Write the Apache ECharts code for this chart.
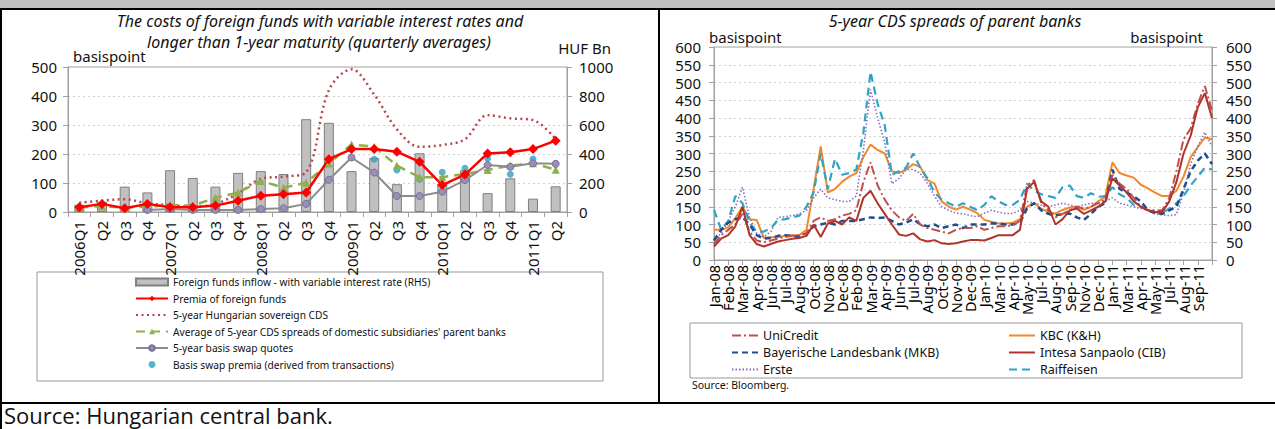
<!DOCTYPE html>
<html><head><meta charset="utf-8">
<script src="https://cdn.jsdelivr.net/npm/echarts/dist/echarts.min.js"></script>
<style>html,body{margin:0;padding:0;background:#fff}#c{width:1275px;height:429px}</style>
</head><body><div id="c"></div>
<script>
// ---------- Left chart data (quarterly) ----------
const quarters = ['2006Q1','Q2','Q3','Q4','2007Q1','Q2','Q3','Q4','2008Q1','Q2','Q3','Q4','2009Q1','Q2','Q3','Q4','2010Q1','Q2','Q3','Q4','2011Q1','Q2'];
const fundsInflow = [50,70,175,135,288,235,175,270,282,262,640,615,282,372,192,405,195,288,130,232,92,177];
const premiaForeign = [16,28,13,28,16,16,22,39,56,61,67,182,217,217,208,173,93,129,202,206,217,246];
const sovereignCDS = [32,39,44,30,24,18,28,64,114,122,137,420,492,405,285,225,231,251,334,323,317,251];
const parentCDSavg = [16,20,15,18,24,22,49,67,107,84,101,167,233,225,160,120,120,131,145,160,168,146];
const basisSwapQuotes = [null,null,null,7,10,7,7,7,10,13,28,111,188,136,55,55,70,110,162,156,168,166];
const basisSwapPremia = [null,null,null,null,null,null,null,null,null,null,null,null,216,182,145,113,137,151,185,130,183,166];
const leftTicksBp = [0,100,200,300,400,500];
const rightTicksHuf = [0,200,400,600,800,1000];

// ---------- Right chart data (two points per tick label) ----------
const monthLabels = ['Jan-08','Feb-08','Mar-08','Apr-08','Jun-08','Jul-08','Aug-08','Oct-08','Nov-08','Dec-08','Feb-09','Mar-09','Apr-09','Jun-09','Jul-09','Aug-09','Oct-09','Nov-09','Dec-09','Jan-10','Mar-10','Apr-10','May-10','Jul-10','Aug-10','Sep-10','Nov-10','Dec-10','Jan-11','Mar-11','Apr-11','May-11','Jul-11','Aug-11','Sep-11'];
const unicredit = [45,70,85,100,130,80,55,50,55,60, 65,68,70,75,110,120,110,115,125,130, 140,220,275,210,170,140,120,110,130,100, 90,85,80,75,85,90,90,95,85,90, 95,95,98,110,210,225,160,140,120,130, 140,150,145,150,160,170,240,215,200,175, 150,140,140,140,175,250,340,370,440,490, 420];
const kbc = [85,85,92,118,150,115,113,62,64,65, 68,70,70,85,200,320,190,200,220,235, 245,290,325,310,300,250,245,255,270,262, 225,215,165,150,142,150,142,132,113,108, 103,103,105,115,150,160,145,135,131,141, 148,150,141,150,165,178,275,245,238,232, 212,202,190,180,180,195,235,290,318,345, 340];
const bayernLB = [55,85,105,115,120,100,70,60,62,68, 70,68,65,75,95,100,105,100,110,110, 110,115,120,118,120,110,100,105,115,100, 95,100,90,95,100,90,100,100,100,103, 103,100,100,105,145,160,140,130,125,130, 131,120,113,130,150,160,255,200,190,180, 165,140,132,130,140,150,200,250,280,300, 270];
const intesa = [38,60,70,95,150,70,45,38,45,52, 56,60,62,68,100,65,103,110,100,120, 110,175,195,160,130,100,72,68,75,58, 52,56,47,45,47,52,56,56,55,62, 70,70,70,85,200,220,165,150,100,115, 140,145,130,140,150,165,230,210,190,165, 150,140,135,135,165,220,300,350,430,470, 400];
const erste = [55,75,110,150,205,120,75,65,80,120, 122,125,130,140,175,200,175,170,165,165, 180,310,480,400,330,215,230,255,255,244, 215,180,150,140,132,130,125,122,132,140, 135,131,131,140,165,160,155,150,155,160, 155,150,155,160,160,165,175,160,155,150, 145,140,130,127,125,128,190,270,320,360, 320];
const raiffeisen = [141,85,110,180,160,105,80,80,90,113, 115,120,125,150,190,300,200,285,240,245, 255,360,530,440,380,240,250,260,300,260, 230,190,170,160,150,160,150,140,155,180, 165,155,155,170,215,195,185,180,175,205, 210,180,175,188,178,180,205,185,175,155, 150,142,135,132,145,160,180,210,235,260, 255];

const dayCats = unicredit.map((_, i) => (i % 2 === 0 && monthLabels[i / 2]) ? monthLabels[i / 2] : '');

const FONT = '"Noto Sans", "DejaVu Sans", sans-serif';
const AX = '#a0a0a0';
const NOSYM = {color: 'rgba(0,0,0,0)', borderColor: 'rgba(0,0,0,0)', borderWidth: 0, opacity: 0};

const chart = echarts.init(document.getElementById('c'), null, {renderer: 'svg'});

function valAxis(grid, pos, min, max, interval, margin, split) {
  return {
    type: 'value', gridIndex: grid, position: pos, min: min, max: max, interval: interval,
    axisLine: {show: true, lineStyle: {color: AX, width: 1}},
    axisTick: {show: true, length: 5, lineStyle: {color: AX}},
    axisLabel: {fontSize: 15, color: '#111', fontFamily: FONT, margin: margin, formatter: v => String(v),
                showMinLabel: true, showMaxLabel: true, hideOverlap: false},
    splitLine: split ? {show: true, lineStyle: {color: '#d0d0d0', type: [2, 3], width: 1}} : {show: false}
  };
}

const option = {
  animation: false,
  backgroundColor: '#fff',
  grid: [
    {left: 68, top: 67, width: 499, height: 145, show: true, borderColor: AX, borderWidth: 1, outerBoundsMode: 'none'},
    {left: 714, top: 47, width: 498, height: 213, show: true, borderColor: AX, borderWidth: 1, outerBoundsMode: 'none'}
  ],
  xAxis: [
    {type: 'category', gridIndex: 0, data: quarters, boundaryGap: true,
     axisLine: {lineStyle: {color: AX}},
     axisTick: {show: true, length: 5, lineStyle: {color: AX}, interval: 0},
     axisLabel: {rotate: 90, fontSize: 15, color: '#111', fontFamily: FONT, margin: 9, interval: 0, hideOverlap: false}},
    {type: 'category', gridIndex: 1, data: dayCats, boundaryGap: false,
     axisLine: {lineStyle: {color: AX}},
     axisTick: {show: true, length: 5, lineStyle: {color: AX}, interval: 1},
     axisLabel: {rotate: 90, fontSize: 14.5, color: '#000', fontFamily: FONT, margin: 5, interval: 0, hideOverlap: false}}
  ],
  yAxis: [
    valAxis(0, 'left', leftTicksBp[0], leftTicksBp[leftTicksBp.length - 1], 100, 11, true),
    valAxis(0, 'right', rightTicksHuf[0], rightTicksHuf[rightTicksHuf.length - 1], 200, 12, false),
    valAxis(1, 'left', 0, 600, 50, 13, true),
    valAxis(1, 'right', 0, 600, 50, 14, false)
  ],
  legend: [
    {orient: 'vertical', left: 130, top: 272, itemWidth: 32, itemHeight: 7, itemGap: 6.5, selectedMode: false,
     textStyle: {fontSize: 10.2, color: '#111', fontFamily: FONT},
     data: [
       {name: 'Foreign funds inflow - with variable interest rate (RHS)', icon: 'rect'},
       'Premia of foreign funds',
       {name: '5-year Hungarian sovereign CDS', itemStyle: NOSYM},
       "Average of 5-year CDS spreads of domestic subsidiaries' parent banks",
       '5-year basis swap quotes',
       {name: 'Basis swap premia (derived from transactions)', icon: 'circle'}
     ]},
    {orient: 'vertical', left: 726, top: 324, itemWidth: 26, itemHeight: 7, itemGap: 4, selectedMode: false,
     textStyle: {fontSize: 12.5, color: '#111', fontFamily: FONT},
     data: [{name: 'UniCredit', itemStyle: NOSYM}, {name: 'Bayerische Landesbank (MKB)', itemStyle: NOSYM}, {name: 'Erste', itemStyle: NOSYM}]},
    {orient: 'vertical', left: 1003, top: 324, itemWidth: 26, itemHeight: 7, itemGap: 4, selectedMode: false,
     textStyle: {fontSize: 12.5, color: '#111', fontFamily: FONT},
     data: [{name: 'KBC (K&H)', itemStyle: NOSYM}, {name: 'Intesa Sanpaolo (CIB)', itemStyle: NOSYM}, {name: 'Raiffeisen', itemStyle: NOSYM}]}
  ],
  series: [
    {name: 'Foreign funds inflow - with variable interest rate (RHS)', type: 'bar', xAxisIndex: 0, yAxisIndex: 1,
     data: fundsInflow, barWidth: 10, itemStyle: {color: '#c0c0c0', borderColor: '#7f7f7f', borderWidth: 1}},
    {name: '5-year Hungarian sovereign CDS', type: 'line', xAxisIndex: 0, yAxisIndex: 0, data: sovereignCDS,
     smooth: 0.35, symbol: 'none', lineStyle: {color: '#b5474a', width: 2.5, type: [2, 3.5]}, itemStyle: {color: '#b5474a'}},
    {name: "Average of 5-year CDS spreads of domestic subsidiaries' parent banks", type: 'line', xAxisIndex: 0, yAxisIndex: 0,
     data: parentCDSavg, symbol: 'triangle', symbolSize: 8,
     lineStyle: {color: '#8db04a', width: 2.5, type: [9, 6]}, itemStyle: {color: '#8db04a'}},
    {name: '5-year basis swap quotes', type: 'line', xAxisIndex: 0, yAxisIndex: 0, data: basisSwapQuotes,
     symbol: 'circle', symbolSize: 7, lineStyle: {color: '#8c8c8c', width: 2},
     itemStyle: {color: '#9a8fb8', borderColor: '#7a6f9c', borderWidth: 1}},
    {name: 'Basis swap premia (derived from transactions)', type: 'scatter', xAxisIndex: 0, yAxisIndex: 0,
     data: basisSwapPremia, symbol: 'circle', symbolSize: 7, itemStyle: {color: '#31a0c0'}},
    {name: 'Premia of foreign funds', type: 'line', xAxisIndex: 0, yAxisIndex: 0, data: premiaForeign,
     symbol: 'diamond', symbolSize: 10, lineStyle: {color: '#ff0000', width: 2.5}, itemStyle: {color: '#ff0000'}},

    {name: 'KBC (K&H)', type: 'line', xAxisIndex: 1, yAxisIndex: 2, data: kbc, symbol: 'none',
     lineStyle: {color: '#f0892a', width: 2}, itemStyle: {color: '#f0892a'}},
    {name: 'Erste', type: 'line', xAxisIndex: 1, yAxisIndex: 2, data: erste, symbol: 'none',
     lineStyle: {color: '#8a6cc0', width: 1.6, type: [1.5, 2]}, itemStyle: {color: '#8a6cc0'}},
    {name: 'Raiffeisen', type: 'line', xAxisIndex: 1, yAxisIndex: 2, data: raiffeisen, symbol: 'none',
     lineStyle: {color: '#31a3c6', width: 2.2, type: [8, 5]}, itemStyle: {color: '#31a3c6'}},
    {name: 'Bayerische Landesbank (MKB)', type: 'line', xAxisIndex: 1, yAxisIndex: 2, data: bayernLB, symbol: 'none',
     lineStyle: {color: '#1f4e8f', width: 2.5, type: [6, 4]}, itemStyle: {color: '#1f4e8f'}},
    {name: 'UniCredit', type: 'line', xAxisIndex: 1, yAxisIndex: 2, data: unicredit, symbol: 'none',
     lineStyle: {color: '#c0504d', width: 2, type: [9, 3, 2, 3]}, itemStyle: {color: '#c0504d'}},
    {name: 'Intesa Sanpaolo (CIB)', type: 'line', xAxisIndex: 1, yAxisIndex: 2, data: intesa, symbol: 'none',
     lineStyle: {color: '#b0342c', width: 2}, itemStyle: {color: '#b0342c'}}
  ],
  graphic: [
    {type: 'rect', shape: {x: 0, y: 0, width: 1275, height: 8}, style: {fill: '#c0c0c0'}, silent: true},
    {type: 'line', shape: {x1: 0, y1: 9, x2: 1275, y2: 9}, style: {stroke: '#000', lineWidth: 2}},
    {type: 'line', shape: {x1: 1, y1: 8, x2: 1, y2: 429}, style: {stroke: '#000', lineWidth: 2}},
    {type: 'line', shape: {x1: 659, y1: 9, x2: 659, y2: 403}, style: {stroke: '#000', lineWidth: 2}},
    {type: 'line', shape: {x1: 0, y1: 403, x2: 1275, y2: 403}, style: {stroke: '#000', lineWidth: 2}},
    {type: 'rect', shape: {x: 37, y: 272, width: 566, height: 109}, style: {fill: 'none', stroke: '#999', lineWidth: 1}},
    {type: 'rect', shape: {x: 690, y: 323, width: 552, height: 55}, style: {fill: 'none', stroke: '#999', lineWidth: 1}},
    {type: 'text', x: 320, y: 21, style: {text: 'The costs of foreign funds with variable interest rates and', font: 'italic 16px ' + FONT, fill: '#111', textAlign: 'center', textVerticalAlign: 'middle', align: 'center', verticalAlign: 'middle'}},
    {type: 'text', x: 319, y: 42, style: {text: 'longer than 1-year maturity (quarterly averages)', font: 'italic 16px ' + FONT, fill: '#111', textAlign: 'center', textVerticalAlign: 'middle', align: 'center', verticalAlign: 'middle'}},
    {type: 'text', x: 73, y: 56, style: {text: 'basispoint', font: '15px ' + FONT, fill: '#111', textAlign: 'left', textVerticalAlign: 'middle', align: 'left', verticalAlign: 'middle'}},
    {type: 'text', x: 611, y: 48, style: {text: 'HUF Bn', font: '15px ' + FONT, fill: '#111', textAlign: 'right', textVerticalAlign: 'middle', align: 'right', verticalAlign: 'middle'}},
    {type: 'text', x: 955, y: 21, style: {text: '5-year CDS spreads of parent banks', font: 'italic 16px ' + FONT, fill: '#111', textAlign: 'center', textVerticalAlign: 'middle', align: 'center', verticalAlign: 'middle'}},
    {type: 'text', x: 709, y: 37, style: {text: 'basispoint', font: '15px ' + FONT, fill: '#111', textAlign: 'left', textVerticalAlign: 'middle', align: 'left', verticalAlign: 'middle'}},
    {type: 'text', x: 1203, y: 37, style: {text: 'basispoint', font: '15px ' + FONT, fill: '#111', textAlign: 'right', textVerticalAlign: 'middle', align: 'right', verticalAlign: 'middle'}},
    {type: 'text', x: 692, y: 385, style: {text: 'Source: Bloomberg.', font: '10.5px ' + FONT, fill: '#111', textAlign: 'left', textVerticalAlign: 'middle', align: 'left', verticalAlign: 'middle'}},
    {type: 'text', x: 4, y: 415, style: {text: 'Source: Hungarian central bank.', font: '22px "Open Sans", sans-serif', fill: '#111', textAlign: 'left', textVerticalAlign: 'middle', align: 'left', verticalAlign: 'middle'}}
  ]
};
chart.setOption(option);
</script>
</body></html>
